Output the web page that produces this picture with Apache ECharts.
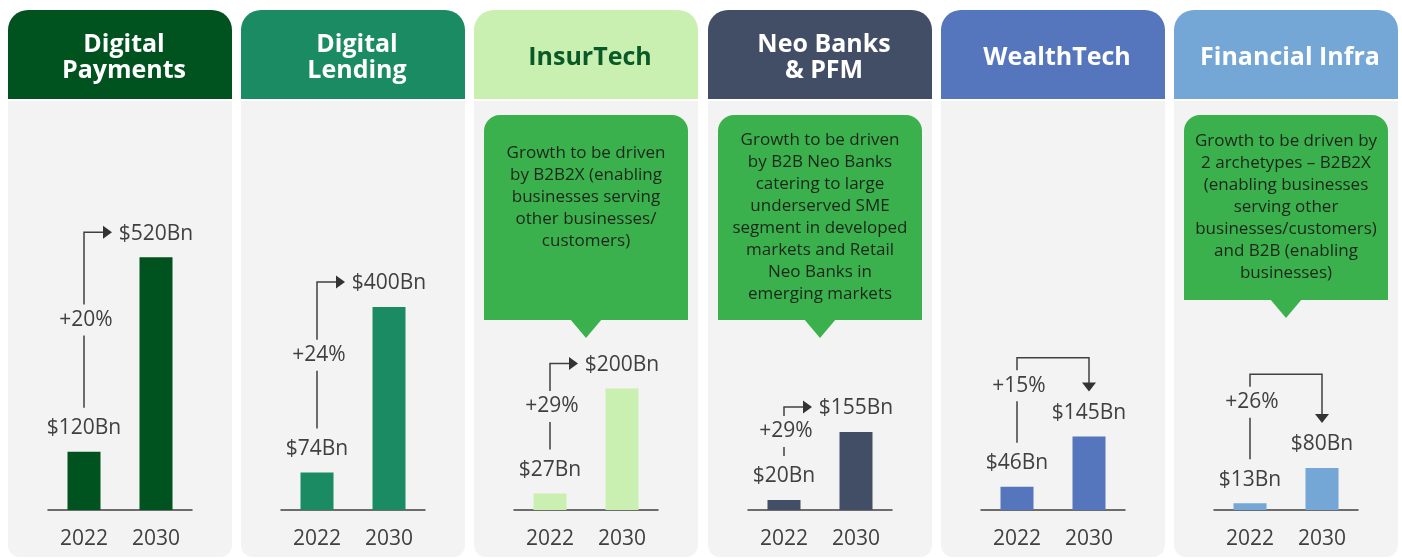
<!DOCTYPE html>
<html>
<head>
<meta charset="utf-8">
<script src="https://cdn.jsdelivr.net/npm/echarts@6/dist/echarts.min.js"></script>
<style>
  html, body { margin: 0; padding: 0; background: #ffffff; }
  #main { width: 1402px; height: 558px; }
</style>
</head>
<body>
<div id="main"></div>
<script>
var sectors = ['Digital\nPayments', 'Digital\nLending', 'InsurTech', 'Neo Banks\n& PFM', 'WealthTech', 'Financial Infra'];
var years = ['2022', '2030'];
var value2022 = [120, 74, 27, 20, 46, 13];
var value2030 = [520, 400, 200, 155, 145, 80];
var growth = ['+20%', '+24%', '+29%', '+29%', '+15%', '+26%'];
var notes = [
    null,
    null,
    'Growth to be driven\nby B2B2X (enabling\nbusinesses serving\nother businesses/\ncustomers)',
    'Growth to be driven\nby B2B Neo Banks\ncatering to large\nunderserved SME\nsegment in developed\nmarkets and Retail\nNeo Banks in\nemerging markets',
    null,
    'Growth to be driven by\n2 archetypes \u2013 B2B2X\n(enabling businesses\nserving other\nbusinesses/customers)\nand B2B (enabling\nbusinesses)'
];

// layout / look per panel
var panelLeft = [8, 241, 474, 708, 941, 1174];
var panelW = 224;
var headColor = ['#00521f', '#1a8b63', '#c9efb1', '#424d66', '#5576bc', '#74a6d6'];
var headText = ['#ffffff', '#ffffff', '#0a5a28', '#ffffff', '#ffffff', '#ffffff'];
var barColor = ['#00521f', '#1a8b63', '#c9efb1', '#424d66', '#5576bc', '#74a6d6'];
var axisMax = [823, 788, 658, 795, 789, 762];
var arrowKind = ['side', 'side', 'side', 'side', 'over', 'over'];
var noteBottom = [0, 0, 320, 320, 0, 300];
var noteTextTop = [0, 0, 142, 129, 0, 130];

var font = '"Open Sans", "Noto Sans", sans-serif';
var ink = '#404040';
var bodyBg = '#f3f3f3';
var calloutGreen = '#3ab14c';

var chart = echarts.init(document.getElementById('main'));

var grids = [], xAxes = [], yAxes = [], series = [];
for (var i = 0; i < sectors.length; i++) {
    grids.push({ left: panelLeft[i] + 40, width: 144, top: 110, height: 400 });
    xAxes.push({
        type: 'category', gridIndex: i, data: years, z: 10,
        axisLine: { lineStyle: { color: ink, width: 1.5 } },
        axisTick: { show: false },
        axisLabel: { fontSize: 21, color: ink, fontFamily: font, margin: 19 }
    });
    yAxes.push({ type: 'value', gridIndex: i, min: 0, max: axisMax[i], show: false, splitLine: { show: false } });
    series.push({
        type: 'bar', xAxisIndex: i, yAxisIndex: i, z: 10,
        barWidth: 33,
        data: [value2022[i], value2030[i]],
        itemStyle: { color: barColor[i] },
        label: {
            show: true, position: 'top', distance: 13,
            fontSize: 21, color: ink, fontFamily: font,
            formatter: function (p) { return '$' + p.value + 'Bn'; }
        },
        silent: true
    });
}

chart.setOption({
    backgroundColor: '#ffffff',
    animation: false,
    grid: grids,
    xAxis: xAxes,
    yAxis: yAxes,
    series: series
});

function px(i, cat, v) {
    return chart.convertToPixel({ seriesIndex: i }, [cat, v]);
}

var g = [];
for (var i = 0; i < sectors.length; i++) {
    var L = panelLeft[i];
    // panel body
    g.push({ type: 'rect', z: 0, shape: { x: L, y: 101, width: panelW, height: 456, r: [0, 0, 12, 12] }, style: { fill: bodyBg } });
    // header
    g.push({ type: 'rect', z: 1, shape: { x: L, y: 10, width: panelW, height: 89, r: [20, 20, 0, 0] }, style: { fill: headColor[i] } });
    g.push({
        type: 'text', z: 2, x: L + panelW / 2 + 4, y: 57.5,
        style: {
            text: sectors[i], fill: headText[i], font: 'bold 25px ' + font,
            textAlign: 'center', textVerticalAlign: 'middle', lineHeight: 26
        }
    });
    // callout
    if (notes[i]) {
        var bx = L + 10, bw = 204, by = 115, bb = noteBottom[i];
        var cx = bx + bw / 2;
        g.push({ type: 'rect', z: 3, shape: { x: bx, y: by, width: bw, height: bb - by, r: [16, 16, 0, 0] }, style: { fill: calloutGreen } });
        g.push({ type: 'polygon', z: 3, shape: { points: [[cx - 16, bb - 1], [cx + 16, bb - 1], [cx, bb + 18]] }, style: { fill: calloutGreen } });
        g.push({
            type: 'text', z: 4, x: cx, y: noteTextTop[i],
            style: {
                text: notes[i], fill: '#1c261c', font: '17px ' + font,
                textAlign: 'center', textVerticalAlign: 'top', lineHeight: 22
            }
        });
    }
    // growth arrow
    var a = px(i, years[0], value2022[i]);
    var b = px(i, years[1], value2030[i]);
    var x1 = a[0], x2 = b[0];
    var lab1 = a[1] - 24, lab2 = b[1] - 25;
    var yBottom = lab1 - 20;
    var lineStyle = { stroke: ink, lineWidth: 1.5, fill: null };
    var textY;
    if (arrowKind[i] === 'side') {
        var yTop = lab2;
        var tip = x2 - 44;
        g.push({ type: 'polyline', z: 5, shape: { points: [[x1, yBottom], [x1, yTop], [tip - 7, yTop]] }, style: lineStyle });
        g.push({ type: 'polygon', z: 5, shape: { points: [[tip - 9, yTop - 6.5], [tip, yTop], [tip - 9, yTop + 6.5]] }, style: { fill: '#333333' } });
        textY = (yTop + yBottom) / 2;
    } else {
        var yTop2 = lab1 - 105;
        var tipY = lab2 - 20;
        g.push({ type: 'polyline', z: 5, shape: { points: [[x1, yBottom], [x1, yTop2], [x2, yTop2], [x2, tipY - 7]] }, style: lineStyle });
        g.push({ type: 'polygon', z: 5, shape: { points: [[x2 - 7, tipY - 9], [x2 + 7, tipY - 9], [x2, tipY]] }, style: { fill: '#333333' } });
        textY = yTop2 + 28;
    }
    g.push({
        type: 'text', z: 6, x: x1 + 2, y: textY,
        style: {
            text: growth[i], fill: ink, font: '21px ' + font,
            textAlign: 'center', textVerticalAlign: 'middle',
            backgroundColor: bodyBg, padding: [5, 2]
        }
    });
}

chart.setOption({ graphic: { elements: g } });
</script>
</body>
</html>
